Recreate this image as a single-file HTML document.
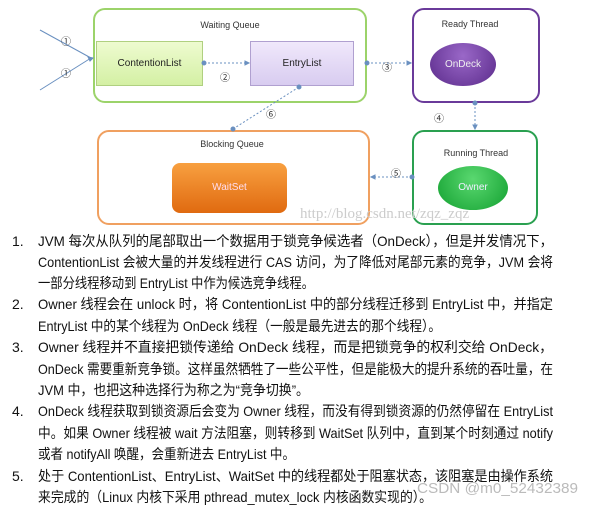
<!DOCTYPE html>
<html><head><meta charset="utf-8"><style>
body{margin:0;width:591px;height:506px;background:#fff;position:relative;overflow:hidden;font-family:"Liberation Sans","Noto Sans CJK SC",sans-serif;}
.b{position:absolute;box-sizing:border-box;border-radius:12px;}
.lbl{position:absolute;font-size:9px;color:#333;transform:translateX(-50%);white-space:nowrap}
</style></head><body>
<div class="b" style="left:93px;top:8px;width:274px;height:95px;border:2px solid #9cd36a"></div>
<div class="b" style="left:412px;top:8px;width:128px;height:95px;border:2px solid #6a3a9a"></div>
<div class="b" style="left:97px;top:130px;width:273px;height:95px;border:2px solid #f0a060"></div>
<div class="b" style="left:412px;top:130px;width:126px;height:95px;border:2px solid #2aa050"></div>
<div class="lbl" style="left:230px;top:20px">Waiting Queue</div>
<div class="lbl" style="left:470px;top:19px">Ready Thread</div>
<div class="lbl" style="left:232px;top:139px">Blocking Queue</div>
<div class="lbl" style="left:476px;top:148px">Running Thread</div>
<div style="position:absolute;left:96px;top:41px;width:107px;height:45px;background:linear-gradient(#eefbd0,#d4f0a4);border:1px solid #b0d080;box-sizing:border-box;font-size:10px;line-height:43px;text-align:center;color:#222">ContentionList</div>
<div style="position:absolute;left:250px;top:41px;width:104px;height:45px;background:linear-gradient(#f0e8fb,#d8ccf0);border:1px solid #b0a0d0;box-sizing:border-box;font-size:10px;line-height:43px;text-align:center;color:#222">EntryList</div>
<div style="position:absolute;left:430px;top:43px;width:66px;height:43px;border-radius:50%;background:radial-gradient(circle at 50% 30%,#9a68c8,#5a2a8a);color:#eee;font-size:10px;line-height:43px;text-align:center">OnDeck</div>
<div style="position:absolute;left:438px;top:166px;width:70px;height:44px;border-radius:50%;background:radial-gradient(circle at 50% 30%,#5ad870,#12a030);color:#eef;font-size:10px;line-height:44px;text-align:center">Owner</div>
<div style="position:absolute;left:172px;top:163px;width:115px;height:50px;border-radius:8px;background:linear-gradient(#f8a040,#e06a10);color:#fde;font-size:10px;line-height:50px;text-align:center">WaitSet</div>
<svg style="position:absolute;left:0;top:0" width="591" height="506">
<g stroke="#6a90c0" stroke-width="1" fill="#6a90c0">
<line x1="40" y1="30" x2="91" y2="58"/><line x1="40" y1="90" x2="91" y2="58"/>
<g stroke-dasharray="2,2">
<line x1="204" y1="63" x2="246" y2="63"/><line x1="367" y1="63" x2="408" y2="63"/>
<line x1="475" y1="103" x2="475" y2="126"/><line x1="412" y1="177" x2="374" y2="177"/>
<line x1="233" y1="129" x2="299" y2="87"/></g>
<circle cx="204" cy="63" r="2"/><circle cx="367" cy="63" r="2"/><circle cx="475" cy="103" r="2"/><circle cx="412" cy="177" r="2"/><circle cx="233" cy="129" r="2"/><circle cx="299" cy="87" r="2"/>
<path d="M249 63l-4-2v4z M411 63l-4-2v4z M475 129l-2-4h4z M371 177l4-2v4z M93 58l-5-1 2 4z"/>
</g>
<g font-size="10" fill="#333"><text x="61" y="45">①</text><text x="61" y="77">①</text><text x="220" y="81">②</text><text x="382" y="71">③</text><text x="434" y="122">④</text><text x="391" y="177">⑤</text><text x="266" y="118">⑥</text></g>
<text x="300" y="218" font-size="15" fill="#ccc" font-family="Liberation Serif">http://blog.csdn.net/zqz_zqz</text>
<g font-size="14" fill="#111" lengthAdjust="spacingAndGlyphs">
<text x="12" y="246">1.</text><text x="12" y="309">2.</text><text x="12" y="352">3.</text><text x="12" y="416">4.</text><text x="12" y="481">5.</text>
<text x="38" y="246" textLength="515" lengthAdjust="spacingAndGlyphs">JVM 每次从队列的尾部取出一个数据用于锁竞争候选者（OnDeck），但是并发情况下，</text>
<text x="38" y="267" textLength="515" lengthAdjust="spacingAndGlyphs">ContentionList 会被大量的并发线程进行 CAS 访问，为了降低对尾部元素的竞争，JVM 会将</text>
<text x="38" y="288" textLength="276" lengthAdjust="spacingAndGlyphs">一部分线程移动到 EntryList 中作为候选竞争线程。</text>
<text x="38" y="309" textLength="515" lengthAdjust="spacingAndGlyphs">Owner 线程会在 unlock 时，将 ContentionList 中的部分线程迁移到 EntryList 中，并指定</text>
<text x="38" y="331" textLength="403" lengthAdjust="spacingAndGlyphs">EntryList 中的某个线程为 OnDeck 线程（一般是最先进去的那个线程）。</text>
<text x="38" y="352" textLength="515" lengthAdjust="spacingAndGlyphs">Owner 线程并不直接把锁传递给 OnDeck 线程，而是把锁竞争的权利交给 OnDeck，</text>
<text x="38" y="374" textLength="515" lengthAdjust="spacingAndGlyphs">OnDeck 需要重新竞争锁。这样虽然牺牲了一些公平性，但是能极大的提升系统的吞吐量，在</text>
<text x="38" y="395" textLength="271" lengthAdjust="spacingAndGlyphs">JVM 中，也把这种选择行为称之为“竞争切换”。</text>
<text x="38" y="416" textLength="515" lengthAdjust="spacingAndGlyphs">OnDeck 线程获取到锁资源后会变为 Owner 线程，而没有得到锁资源的仍然停留在 EntryList</text>
<text x="38" y="438" textLength="515" lengthAdjust="spacingAndGlyphs">中。如果 Owner 线程被 wait 方法阻塞，则转移到 WaitSet 队列中，直到某个时刻通过 notify</text>
<text x="38" y="459" textLength="257" lengthAdjust="spacingAndGlyphs">或者 notifyAll 唤醒，会重新进去 EntryList 中。</text>
<text x="38" y="481" textLength="515" lengthAdjust="spacingAndGlyphs">处于 ContentionList、EntryList、WaitSet 中的线程都处于阻塞状态，该阻塞是由操作系统</text>
<text x="38" y="502" textLength="394" lengthAdjust="spacingAndGlyphs">来完成的（Linux 内核下采用 pthread_mutex_lock 内核函数实现的）。</text>
</g>
<text x="417" y="493" font-size="15" fill="#bbb" textLength="161" lengthAdjust="spacingAndGlyphs">CSDN @m0_52432389</text>
</svg>
</body></html>
